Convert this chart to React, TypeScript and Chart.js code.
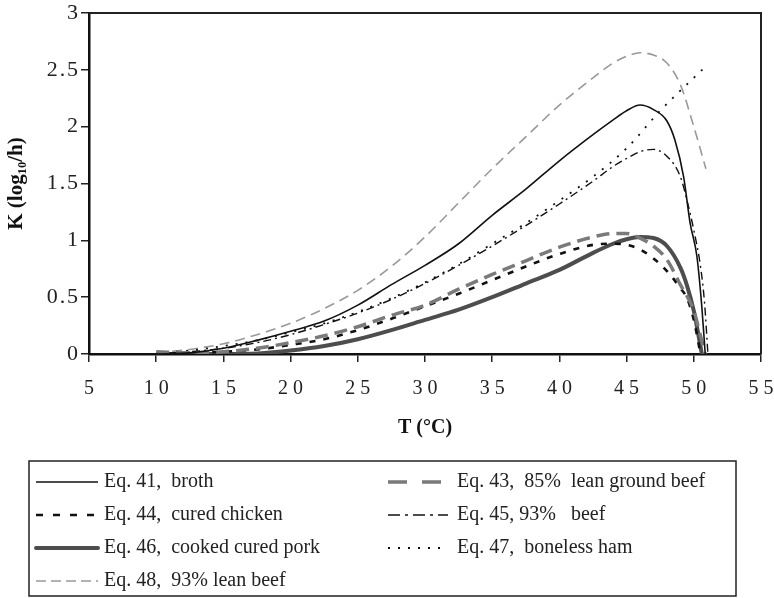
import React, { useEffect, useRef } from "react";
import { Chart, registerables } from "chart.js";

Chart.register(...registerables);

const SERIF = "'Liberation Serif', 'DejaVu Serif', serif";

// Rate constant K (log10/h) against temperature T (°C) for each equation
const T41 = [10, 12.5, 15, 17.5, 20, 22.5, 25, 27.5, 30, 32.5, 35, 37.5, 40, 42.5, 44, 45, 46, 47, 48, 48.6, 49.24, 49.73, 50.23, 50.6, 50.85];
const K41 = [0, 0.01, 0.05, 0.12, 0.2, 0.29, 0.43, 0.61, 0.78, 0.97, 1.22, 1.45, 1.7, 1.93, 2.06, 2.14, 2.19, 2.15, 2.05, 1.88, 1.56, 1.15, 0.86, 0.41, 0];

const T43 = [10, 12.5, 15, 17.5, 20, 22.5, 25, 27.5, 30, 32.5, 35, 37.5, 40, 42.5, 44, 45, 46, 47, 48, 49, 50, 50.5, 50.85];
const K43 = [0.02, 0.01, 0.02, 0.05, 0.1, 0.16, 0.24, 0.34, 0.43, 0.57, 0.7, 0.82, 0.94, 1.03, 1.06, 1.06, 1.02, 0.95, 0.83, 0.61, 0.38, 0.16, 0];

const T44 = [10, 12.5, 15, 17.5, 20, 22.5, 25, 27.5, 30, 32.5, 35, 37.5, 40, 42.5, 44, 45, 46, 47, 48, 49, 49.5, 50, 50.5];
const K44 = [0, 0.01, 0.02, 0.04, 0.08, 0.13, 0.21, 0.31, 0.42, 0.53, 0.65, 0.77, 0.88, 0.96, 0.97, 0.96, 0.92, 0.84, 0.73, 0.58, 0.49, 0.3, 0];

const T45 = [10, 12.5, 15, 17.5, 20, 22.5, 25, 27.5, 30, 32.5, 35, 37.5, 40, 42.5, 44, 45, 46, 47, 48, 49, 49.6, 50, 50.5, 50.8, 51.05];
const K45 = [0, 0.02, 0.05, 0.1, 0.17, 0.26, 0.36, 0.48, 0.62, 0.78, 0.95, 1.13, 1.32, 1.52, 1.65, 1.72, 1.78, 1.8, 1.74, 1.56, 1.3, 1.09, 0.77, 0.45, 0];

const T46 = [10, 15, 17.5, 20, 22.5, 25, 27.5, 30, 32.5, 35, 37.5, 40, 42.5, 44, 45, 46, 47, 48, 49, 49.5, 50, 50.6];
const K46 = [0, 0, 0.005, 0.03, 0.07, 0.13, 0.21, 0.3, 0.39, 0.5, 0.62, 0.74, 0.89, 0.97, 1.01, 1.03, 1.02, 0.95, 0.76, 0.6, 0.38, 0];

const T47 = [10, 12.5, 15, 17.5, 20, 22.5, 25, 27.5, 30, 32.5, 35, 37.5, 40, 42.5, 45, 47.5, 50, 50.9];
const K47 = [0.01, 0.03, 0.07, 0.12, 0.19, 0.27, 0.37, 0.49, 0.63, 0.79, 0.97, 1.15, 1.35, 1.56, 1.81, 2.14, 2.43, 2.53];

const T48 = [10, 12.5, 15, 17.5, 20, 22.5, 25, 27.5, 30, 32.5, 35, 37.5, 40, 42.5, 44, 45, 46, 47, 48, 49, 50, 50.9];
const K48 = [0.01, 0.04, 0.09, 0.17, 0.27, 0.4, 0.56, 0.77, 1.03, 1.33, 1.63, 1.91, 2.19, 2.43, 2.56, 2.62, 2.65, 2.63, 2.56, 2.37, 2.0, 1.63];

const LABELS = [
  "Eq. 41,  broth",
  "Eq. 43,  85%  lean ground beef",
  "Eq. 44,  cured chicken",
  "Eq. 45, 93%   beef",
  "Eq. 46,  cooked cured pork",
  "Eq. 47,  boneless ham",
  "Eq. 48,  93% lean beef",
];

const X_TICKS = [5, 10, 15, 20, 25, 30, 35, 40, 45, 50, 55];
const Y_TICKS = [0, 0.5, 1, 1.5, 2, 2.5, 3];

const X_TITLE = "T (°C)";
const Y_TITLE = "K (log₁₀/h)";

const pairs = (t: number[], k: number[]) => t.map((x, i) => ({ x, y: k[i] }));

// Top and right edges of the plot frame
const framePlugin = {
  id: "frame",
  afterDraw(chart: any) {
    const { ctx, chartArea: a } = chart;
    ctx.save();
    ctx.strokeStyle = "#222";
    ctx.lineWidth = 2;
    ctx.beginPath();
    ctx.moveTo(a.left, a.top);
    ctx.lineTo(a.right, a.top);
    ctx.lineTo(a.right, a.bottom);
    ctx.stroke();
    ctx.restore();
  },
};

// Boxed two-column legend under the axis title
const boxLegendPlugin = {
  id: "boxLegend",
  afterDraw(chart: any) {
    const { ctx } = chart;
    const box = { left: 29, top: 461, right: 736, bottom: 596 };
    const cols = [
      { x0: 36, x1: 98, tx: 104 },
      { x0: 388, x1: 448, tx: 457 },
    ];
    const rowY = [482, 515, 548, 581];
    ctx.save();
    ctx.strokeStyle = "#222";
    ctx.lineWidth = 1.5;
    ctx.strokeRect(box.left, box.top, box.right - box.left, box.bottom - box.top);
    chart.data.datasets.forEach((ds: any, i: number) => {
      const c = cols[i % 2];
      const y = rowY[Math.floor(i / 2)];
      ctx.beginPath();
      ctx.strokeStyle = ds.borderColor;
      ctx.lineWidth = ds.borderWidth;
      ctx.lineCap = ds.legendCap || "butt";
      ctx.setLineDash(ds.legendDash || ds.borderDash || []);
      ctx.moveTo(c.x0, y);
      ctx.lineTo(c.x1, y);
      ctx.stroke();
      ctx.setLineDash([]);
      ctx.fillStyle = "#222";
      ctx.font = `20px ${SERIF}`;
      ctx.textBaseline = "middle";
      ctx.textAlign = "left";
      ctx.fillText(ds.label, c.tx, y);
    });
    ctx.restore();
  },
};

export default function App() {
  const ref = useRef<HTMLCanvasElement | null>(null);

  useEffect(() => {
    if (!ref.current) return;
    const base = { pointRadius: 0, fill: false, cubicInterpolationMode: "monotone" as const };
    const chart = new Chart(ref.current, {
      type: "line",
      data: {
        datasets: [
          { ...base, label: LABELS[0], data: pairs(T41, K41), borderColor: "#111", borderWidth: 1.6 },
          { ...base, label: LABELS[1], data: pairs(T43, K43), borderColor: "#7a7a7a", borderWidth: 3.5, borderDash: [13, 7], legendDash: [19, 15] },
          { ...base, label: LABELS[2], data: pairs(T44, K44), borderColor: "#111", borderWidth: 2.6, borderDash: [6, 8], legendDash: [7, 10] },
          { ...base, label: LABELS[3], data: pairs(T45, K45), borderColor: "#111", borderWidth: 1.4, borderDash: [8, 4, 2, 4], legendDash: [12, 5, 3, 5] },
          { ...base, label: LABELS[4], data: pairs(T46, K46), borderColor: "#4d4d4d", borderWidth: 4, legendCap: "round" },
          { ...base, label: LABELS[5], data: pairs(T47, K47), borderColor: "#111", borderWidth: 1.8, borderDash: [2, 8], legendDash: [2, 8] },
          { ...base, label: LABELS[6], data: pairs(T48, K48), borderColor: "#999", borderWidth: 1.6, borderDash: [10, 6], legendDash: [10, 5] },
        ] as any,
      },
      options: {
        animation: false,
        responsive: true,
        maintainAspectRatio: false,
        layout: { padding: { left: 0, top: 13, right: 13, bottom: 158 } },
        plugins: { legend: { display: false }, tooltip: { enabled: false } },
        scales: {
          x: {
            type: "linear",
            min: 5,
            max: 55,
            afterBuildTicks: (s: any) => { s.ticks = X_TICKS.map((value) => ({ value })); },
            afterFit: (s: any) => { s.height = 86; s.paddingLeft = 0; s.paddingRight = 0; },
            border: { display: true, color: "#111", width: 2.5 },
            grid: { drawOnChartArea: false, drawTicks: true, tickLength: 8, color: "#222", lineWidth: 1.5 },
            ticks: {
              padding: 15,
              color: "#222",
              font: { family: SERIF, size: 20 },
              maxRotation: 0,
              callback: (v: any) => String(v).split("").join("\u2005"),
            },
            title: {
              display: true,
              text: X_TITLE,
              color: "#111",
              font: { family: SERIF, size: 20, weight: "bold" },
              padding: { top: 0, bottom: 0 },
            },
          },
          y: {
            type: "linear",
            min: 0,
            max: 3,
            afterBuildTicks: (s: any) => { s.ticks = Y_TICKS.map((value) => ({ value })); },
            afterFit: (s: any) => { s.width = 89; s.paddingTop = 0; s.paddingBottom = 0; },
            border: { display: true, color: "#111", width: 2.5 },
            grid: { drawOnChartArea: false, drawTicks: true, tickLength: 8, color: "#222", lineWidth: 1.5 },
            ticks: {
              padding: 3,
              color: "#222",
              font: { family: SERIF, size: 22 },
              callback: (v: any) => String(v).split("").join("\u200A"),
            },
            title: {
              display: true,
              text: Y_TITLE,
              color: "#111",
              font: { family: SERIF, size: 21, weight: "bold" },
              padding: { top: 4, bottom: 0 },
            },
          },
        },
      },
      plugins: [framePlugin, boxLegendPlugin],
    });
    return () => chart.destroy();
  }, []);

  return (
    <div style={{ position: "fixed", left: 0, top: 0, width: 774, height: 598, background: "#fff" }}>
      <canvas ref={ref} />
    </div>
  );
}
